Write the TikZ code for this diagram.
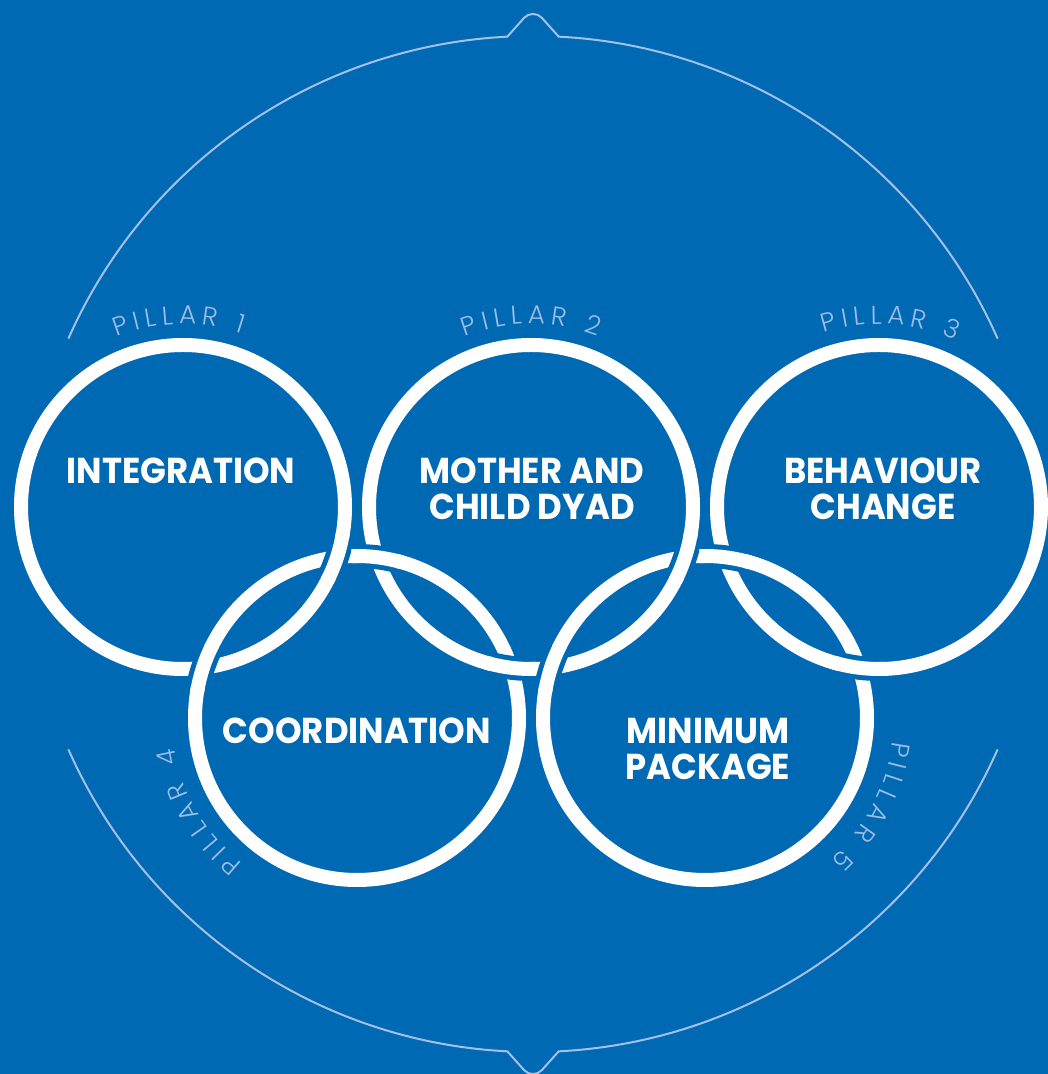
\documentclass[tikz,border=0pt]{standalone}
\usepackage{fontspec}
\newfontfamily\ringfont{Poppins Bold}
\newfontfamily\pillarfont{Poppins Light}
\definecolor{bg}{HTML}{0069B4}
\definecolor{thinline}{HTML}{A3C1E6}
\definecolor{pillarcol}{HTML}{9DBDE4}
\newlength\plw
\newlength\pltot
\newlength\placc
\newcommand\pfsize{\fontsize{26}{30}\pillarfont}
% measure a character outside the picture: #1 name, #2 printed text
\newcommand\mw[2]{\settowidth\plw{\pfsize #2}%
  \expandafter\xdef\csname pw#1\endcsname{\the\plw}%
  \expandafter\gdef\csname pc#1\endcsname{#2}}
\newcommand\pillarlabel[5]{%
  \global\pltot=0pt
  \foreach \ch in {#5}{\global\advance\pltot by \csname pw\ch\endcsname\relax
    \global\advance\pltot by #4pt\relax}%
  \global\advance\pltot by -#4pt\relax
  \global\placc=0pt
  \foreach \ch in {#5}{%
    \plw=\csname pw\ch\endcsname\relax
    \pgfmathsetmacro\plang{#3 + deg((0.5*\pltot - \placc - 0.5*\plw)/#2)}%
    \pgfmathsetmacro\plrot{\plang-90}%
    \node[pillartext, rotate=\plrot] at ([shift={(\plang:#2)}]#1) {\csname pc\ch\endcsname};
    \global\advance\placc by \plw\relax
    \global\advance\placc by #4pt\relax
  }%
}
\newcommand\ringover[2]{%
  \draw[draw=bg,line width=24pt] ([shift={(#2-7:162)}]#1) arc[start angle=#2-7,end angle=#2+7,radius=162];
  \draw[ring] ([shift={(#2-9:162)}]#1) arc[start angle=#2-9,end angle=#2+9,radius=162];
}
\begin{document}
\mw{P}{P}\mw{I}{I}\mw{L}{L}\mw{A}{A}\mw{R}{R}\mw{S}{\space}%
\mw{1}{1}\mw{2}{2}\mw{3}{3}\mw{4}{4}\mw{5}{5}%
\begin{tikzpicture}[x=1pt,y=1pt,
  ring/.style={draw=white,line width=14pt},
  outerline/.style={draw=thinline,line width=2pt},
  ringtext/.style={text=white,font=\fontsize{36}{36}\ringfont,anchor=base,inner sep=0pt,xscale=0.94},
  pillartext/.style={text=pillarcol,font=\pfsize,anchor=base,inner sep=0pt}]
\useasboundingbox (0,0) rectangle (1048,1074);
\fill[bg] (0,0) rectangle (1048,1074);
\coordinate (O) at (533,530);
\coordinate (C1) at (183,567);
\coordinate (C2) at (531,567);
\coordinate (C3) at (879,567);
\coordinate (C4) at (357,356);
\coordinate (C5) at (705,356);
% outer frame arcs with notches
\draw[outerline] ([shift={(156.15:508)}]O) arc[start angle=156.15,end angle=92.9,radius=508]
  -- (524,1056) .. controls (528.5,1061.4) and (537.5,1061.4) .. (542,1056)
  -- ([shift={(87.1:508)}]O) arc[start angle=87.1,end angle=23.85,radius=508];
\draw[outerline] ([shift={(203.85:508)}]O) arc[start angle=203.85,end angle=267.1,radius=508]
  -- (524,4) .. controls (528.5,-1.4) and (537.5,-1.4) .. (542,4)
  -- ([shift={(272.9:508)}]O) arc[start angle=272.9,end angle=336.15,radius=508];
% rings
\draw[ring] (C1) circle[radius=162];
\draw[ring] (C2) circle[radius=162];
\draw[ring] (C3) circle[radius=162];
\draw[ring] (C4) circle[radius=162];
\draw[ring] (C5) circle[radius=162];
% interlacing
\ringover{C1}{-18.07}
\ringover{C4}{161.93}
\ringover{C4}{82.9}
\ringover{C2}{262.9}
\ringover{C2}{-18.07}
\ringover{C5}{161.93}
\ringover{C5}{82.9}
\ringover{C3}{262.9}
% ring texts
\node[ringtext] (t1) at (181,590) {INTEGRATION};
\node[ringtext] (t2a) at (532,590.5) {MOTHER AND};
\node[ringtext] (t2b) at (532,554.5) {CHILD DYAD};
\node[ringtext] (t3a) at (883,590.5) {BEHAVIOUR};
\node[ringtext] (t3b) at (883,554.5) {CHANGE};
\node[ringtext] (t4) at (357,330.5) {COORDINATION};
\node[ringtext] (t5a) at (708,330.5) {MINIMUM};
\node[ringtext] (t5b) at (708,294.5) {PACKAGE};
% pillar labels
\pillarlabel{C1}{183}{91.4}{5.5}{P,I,L,L,A,R,S,1}
\pillarlabel{C2}{183}{90}{5.5}{P,I,L,L,A,R,S,2}
\pillarlabel{C3}{183}{86.4}{5.5}{P,I,L,L,A,R,S,3}
\pillarlabel{C4}{185}{210.5}{5.5}{P,I,L,L,A,R,S,4}
\pillarlabel{C5}{189}{-27.7}{5.5}{P,I,L,L,A,R,S,5}
\end{tikzpicture}
\end{document}
